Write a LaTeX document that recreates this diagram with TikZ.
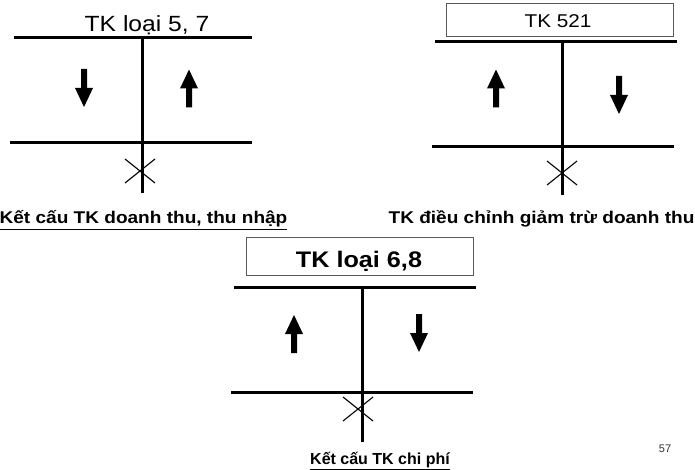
\documentclass[tikz,border=0pt]{standalone}
\usepackage{fontspec}
\setmainfont{Liberation Sans}
\newfontfamily\widefont[FakeStretch=1.12]{Liberation Sans}
\begin{document}
\begin{tikzpicture}[x=1pt,y=-1pt,
  tline/.style={line width=3pt},
  xline/.style={line width=1.1pt},
  tbox/.style={draw=black!65,line width=0.9pt},
  uparr/.pic={\fill (0,-19) -- (9,0) -- (3,0) -- (3,19) -- (-3,19) -- (-3,0) -- (-9,0) -- cycle;},
  dnarr/.pic={\fill (0,19) -- (9,0) -- (3,0) -- (3,-19) -- (-3,-19) -- (-3,0) -- (-9,0) -- cycle;},
  xmark/.pic={\draw[xline] (-15,-12) -- (15,12); \draw[xline] (-15,12) -- (15,-12);},
  captxt/.style={inner sep=0pt,anchor=base}
]
\useasboundingbox (0,0) rectangle (695,470);
\fill[white] (0,0) rectangle (695,470);

% ---------- T1: TK loai 5, 7 ----------
\node[captxt] (t1) at (147,32) {\widefont\fontsize{22}{26}\selectfont TK loại 5, 7};
\coordinate (a1) at (14,38);  \coordinate (b1) at (252,38);
\coordinate (c1) at (10,143); \coordinate (d1) at (252,143);
\coordinate (v1t) at (142,38); \coordinate (v1b) at (142,193);
\draw[tline] (a1) -- (b1);
\draw[tline] (c1) -- (d1);
\draw[tline] (v1t) -- (v1b);
\pic at (84,88) {dnarr};
\pic at (189,88.5) {uparr};
\pic at (140,171) {xmark};
\node[captxt] (cap1) at (143.5,224) {\widefont\bfseries\fontsize{17}{20}\selectfont\underline{Kết cấu TK doanh thu, thu nhập}};

% ---------- T2: TK 521 ----------
\node[tbox,minimum width=227pt,minimum height=33pt,inner sep=0pt] (box2) at (559.5,19.5) {};
\node[captxt] (t2) at (558,28) {\widefont\fontsize{18.5}{22}\selectfont TK 521};
\coordinate (a2) at (435,42);  \coordinate (b2) at (677,42);
\coordinate (c2) at (432,147); \coordinate (d2) at (674,147);
\coordinate (v2t) at (562,42); \coordinate (v2b) at (562,195);
\draw[tline] (a2) -- (b2);
\draw[tline] (c2) -- (d2);
\draw[tline] (v2t) -- (v2b);
\pic at (496,88.5) {uparr};
\pic at (619,95) {dnarr};
\pic at (562,173) {xmark};
\node[captxt] (cap2) at (541.5,224) {\widefont\bfseries\fontsize{17}{20}\selectfont TK điều chỉnh giảm trừ doanh thu};

% ---------- T3: TK loai 6,8 ----------
\node[tbox,minimum width=227pt,minimum height=38pt,inner sep=0pt] (box3) at (359.5,256) {};
\node[captxt] (t3) at (359,267) {\widefont\bfseries\fontsize{22.5}{26}\selectfont TK loại 6,8};
\coordinate (a3) at (234,287); \coordinate (b3) at (476,287);
\coordinate (c3) at (231,392); \coordinate (d3) at (473,392);
\coordinate (v3t) at (362,287); \coordinate (v3b) at (362,442);
\draw[tline] (a3) -- (b3);
\draw[tline] (c3) -- (d3);
\draw[tline] (v3t) -- (v3b);
\pic at (294,334) {uparr};
\pic at (419,333) {dnarr};
\pic at (358,409) {xmark};
\node[captxt] (cap3) at (380,464) {\bfseries\fontsize{16}{19}\selectfont\underline{Kết cấu TK chi phí}};

% ---------- page number ----------
\node[captxt,text=black!80] (pg) at (665,452) {\fontsize{11}{13}\selectfont 57};
\end{tikzpicture}
\end{document}
